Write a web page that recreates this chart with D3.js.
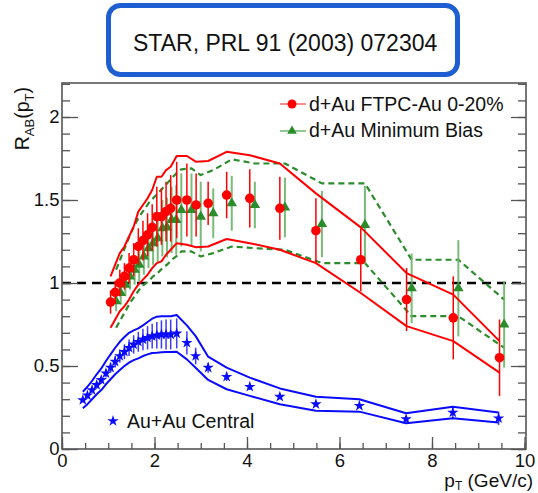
<!DOCTYPE html>
<html><head><meta charset="utf-8">
<script src="https://cdn.jsdelivr.net/npm/d3@7"></script>
<style>
html,body{margin:0;padding:0;background:#fff;}
svg{display:block;font-family:"Liberation Sans",Arial,Helvetica,sans-serif;}
</style></head>
<body>
<svg id="c" width="538" height="493"></svg>
<script>
// ---- data ----
const xMajorTicks = [0, 2, 4, 6, 8, 10];
const yMajorTicks = [0, 0.5, 1, 1.5, 2];

// d+Au FTPC-Au 0-20% (red circles)
const redX   = [1.05,1.15,1.25,1.35,1.45,1.55,1.65,1.75,1.85,1.95,2.05,2.15,2.25,2.35,2.48,2.70,2.90,3.16,3.56,4.06,4.71,5.49,6.46,7.45,8.46,9.46];
const redY   = [0.885,0.944,1.0,1.04,1.09,1.14,1.22,1.255,1.29,1.335,1.40,1.40,1.43,1.45,1.50,1.50,1.47,1.48,1.53,1.51,1.45,1.315,1.14,0.90,0.79,0.55];
const redErr = [0.07,0.07,0.08,0.08,0.09,0.10,0.11,0.12,0.13,0.14,0.18,0.17,0.18,0.20,0.23,0.22,0.19,0.13,0.14,0.175,0.19,0.195,0.19,0.19,0.25,0.23];
const redSysHi = [1.04,1.11,1.18,1.22,1.28,1.34,1.43,1.47,1.51,1.56,1.64,1.64,1.68,1.70,1.765,1.765,1.73,1.735,1.79,1.77,1.72,1.54,1.335,1.06,0.93,0.65];
const redSysLo = [0.73,0.78,0.83,0.86,0.90,0.95,0.99,1.02,1.05,1.09,1.12,1.13,1.17,1.20,1.24,1.23,1.215,1.22,1.265,1.24,1.20,1.12,0.94,0.74,0.65,0.46];

// d+Au Minimum Bias (green triangles)
const greenX   = [1.17,1.27,1.37,1.47,1.57,1.67,1.77,1.87,1.97,2.07,2.17,2.27,2.37,2.47,2.58,2.80,3.00,3.27,3.67,4.17,4.82,5.62,6.55,7.56,8.57,9.56];
const greenY   = [0.89,0.94,0.99,1.04,1.08,1.11,1.16,1.21,1.24,1.27,1.33,1.335,1.38,1.38,1.44,1.44,1.40,1.42,1.48,1.47,1.455,1.355,1.35,0.968,0.968,0.75];
const greenErr = [0.06,0.07,0.07,0.08,0.09,0.10,0.11,0.12,0.13,0.15,0.17,0.18,0.20,0.21,0.22,0.22,0.21,0.15,0.165,0.14,0.18,0.20,0.235,0.21,0.29,0.26];
const greenSysHi = [1.08,1.15,1.22,1.29,1.35,1.40,1.44,1.48,1.51,1.54,1.57,1.60,1.63,1.66,1.685,1.69,1.65,1.68,1.745,1.72,1.72,1.60,1.60,1.14,1.14,0.90];
const greenSysLo = [0.73,0.78,0.83,0.88,0.92,0.96,0.99,1.01,1.04,1.06,1.09,1.11,1.14,1.16,1.19,1.19,1.16,1.18,1.22,1.21,1.20,1.12,1.12,0.80,0.80,0.61];

// Au+Au Central (blue stars)
const blueX   = [0.45,0.55,0.65,0.75,0.85,0.95,1.05,1.15,1.25,1.35,1.45,1.55,1.65,1.75,1.85,1.95,2.05,2.15,2.25,2.35,2.48,2.70,2.89,3.16,3.56,4.06,4.71,5.49,6.43,7.44,8.45,9.44];
const blueY   = [0.295,0.323,0.355,0.386,0.416,0.456,0.49,0.526,0.56,0.586,0.61,0.63,0.646,0.66,0.67,0.68,0.685,0.69,0.69,0.69,0.696,0.64,0.56,0.49,0.435,0.375,0.315,0.27,0.26,0.18,0.22,0.185];
const blueErr = [0.01,0.012,0.015,0.018,0.02,0.025,0.03,0.035,0.04,0.045,0.05,0.055,0.06,0.065,0.07,0.075,0.08,0.085,0.09,0.09,0.09,0.07,0.05,0.03,0.025,0.02,0.015,0.012,0.012,0.01,0.035,0.04];
const blueSysHi = [0.345,0.375,0.41,0.45,0.485,0.53,0.57,0.61,0.646,0.675,0.70,0.715,0.727,0.745,0.765,0.785,0.797,0.80,0.80,0.80,0.807,0.745,0.68,0.556,0.49,0.43,0.365,0.315,0.30,0.215,0.255,0.22];
const blueSysLo = [0.245,0.27,0.30,0.33,0.355,0.39,0.42,0.45,0.476,0.50,0.52,0.535,0.546,0.56,0.57,0.578,0.58,0.583,0.585,0.585,0.586,0.54,0.49,0.416,0.36,0.32,0.27,0.23,0.225,0.155,0.185,0.16];

const legendLabels = ["d+Au FTPC-Au 0-20%", "d+Au Minimum Bias", "Au+Au Central"];
const titleText = "STAR, PRL 91 (2003) 072304";

// ---- drawing ----
const svg = d3.select("#c");
const X0 = 62, X1 = 526, Y0 = 449, Y1 = 83;
const x = d3.scaleLinear().domain([0, 10]).range([62, 524.5]);
const y = d3.scaleLinear().domain([0, 2.2]).range([449, 83.8]);

const RED = "#ff0000", GREEN = "#2a8c2a", GREENBAR = "#6cb46c", BLUE = "#0a0aff";

// title box
svg.append("rect").attr("x", 108.5).attr("y", 5.5).attr("width", 349).attr("height", 69)
  .attr("rx", 12).attr("fill", "#fff").attr("stroke", "#1d5fd1").attr("stroke-width", 5);
svg.append("text").attr("x", 133).attr("y", 51).attr("font-size", 23).attr("fill", "#111").text(titleText);

const g = svg.append("g");

// dashed reference at 1
g.append("line").attr("x1", X0).attr("x2", X1).attr("y1", y(1)).attr("y2", y(1))
  .attr("stroke", "#000").attr("stroke-width", 2.3).attr("stroke-dasharray", "9,6");

const line = d3.line().x(d => x(d[0])).y(d => y(d[1]));
function band(xs, vals, color, width, dash) {
  g.append("path").attr("d", line(xs.map((v, i) => [v, vals[i]])))
    .attr("fill", "none").attr("stroke", color).attr("stroke-width", width)
    .attr("stroke-dasharray", dash || null).attr("stroke-linejoin", "round");
}
function errBars(xs, ys, es, color, width, op) {
  g.append("g").selectAll("line").data(xs).join("line")
    .attr("x1", d => x(d)).attr("x2", d => x(d))
    .attr("y1", (d, i) => y(ys[i] - es[i])).attr("y2", (d, i) => y(ys[i] + es[i]))
    .attr("stroke", color).attr("stroke-width", width).attr("opacity", op || 1);
}

// blue
band(blueX, blueSysHi, BLUE, 2);
band(blueX, blueSysLo, BLUE, 2);
errBars(blueX, blueY, blueErr, BLUE, 1.5, 0.8);
g.append("g").selectAll("path").data(blueX).join("path")
  .attr("transform", (d, i) => `translate(${x(d)},${y(blueY[i])})`)
  .attr("d", d3.symbol(d3.symbolStar, 40)()).attr("fill", BLUE);

// green
band(greenX, greenSysHi, GREEN, 2.2, "6,4");
band(greenX, greenSysLo, GREEN, 2.2, "6,4");
errBars(greenX, greenY, greenErr, GREENBAR, 2, 0.9);
g.append("g").selectAll("path").data(greenX).join("path")
  .attr("transform", (d, i) => `translate(${x(d)},${y(greenY[i])})`)
  .attr("d", d3.symbol(d3.symbolTriangle, 48)()).attr("fill", GREEN);

// red
band(redX, redSysHi, RED, 2);
band(redX, redSysLo, RED, 2);
errBars(redX, redY, redErr, RED, 1.5);
g.append("g").selectAll("circle").data(redX).join("circle")
  .attr("cx", d => x(d)).attr("cy", (d, i) => y(redY[i])).attr("r", 4.8).attr("fill", RED);

// axes
const axG = svg.append("g").attr("color", "#555");
function styleAxis(sel) {
  sel.select(".domain").remove();
  sel.selectAll("line").attr("stroke-width", 1.3);
  sel.selectAll("text").attr("fill", "#111").attr("font-size", 18.5)
     .attr("font-family", "Liberation Sans, Arial, sans-serif");
}
const xMinor = d3.range(0, 10.01, 0.5);
const yMinor = d3.range(0, 2.21, 0.1);
axG.append("g").attr("transform", `translate(0,${Y0})`)
  .call(d3.axisBottom(x).tickValues(xMinor).tickSize(-6).tickFormat("")).call(styleAxis);
axG.append("g").attr("transform", `translate(0,${Y0})`)
  .call(d3.axisBottom(x).tickValues(xMajorTicks).tickSize(-12).tickPadding(5).tickFormat(d3.format("d"))).call(styleAxis);
axG.append("g").attr("transform", `translate(${X0},0)`)
  .call(d3.axisLeft(y).tickValues(yMinor).tickSize(-8).tickFormat("")).call(styleAxis);
axG.append("g").attr("transform", `translate(${X0},0)`)
  .call(d3.axisLeft(y).tickValues(yMajorTicks).tickSize(-16).tickPadding(2.5).tickFormat(d => d3.format("")(d))).call(styleAxis);
axG.append("g").attr("transform", `translate(${X1},0)`)
  .call(d3.axisRight(y).tickValues(yMinor).tickSize(-8).tickFormat("")).call(styleAxis);
axG.append("g").attr("transform", `translate(${X1},0)`)
  .call(d3.axisRight(y).tickValues(yMajorTicks).tickSize(-15).tickFormat("")).call(styleAxis);

// frame
svg.append("rect").attr("x", X0).attr("y", Y1).attr("width", X1 - X0).attr("height", Y0 - Y1)
  .attr("fill", "none").attr("stroke", "#555").attr("stroke-width", 1.6);

// axis titles
const yt = svg.append("text").attr("transform", "translate(29,87) rotate(-90)")
  .attr("text-anchor", "end").attr("font-size", 19.5).attr("fill", "#111");
yt.append("tspan").text("R");
yt.append("tspan").attr("font-size", 13).attr("dy", 5).text("AB");
yt.append("tspan").attr("dy", -5).text("(p");
yt.append("tspan").attr("font-size", 13).attr("dy", 5).text("T");
yt.append("tspan").attr("dy", -5).text(")");

const xt = svg.append("text").attr("x", 533).attr("y", 487).attr("text-anchor", "end")
  .attr("font-size", 19).attr("fill", "#111");
xt.append("tspan").text("p");
xt.append("tspan").attr("font-size", 12).attr("dy", 3).text("T");
xt.append("tspan").attr("dy", -3).text(" (GeV/c)");

// legend
const lg = svg.append("g");
lg.append("line").attr("x1", 280).attr("x2", 306).attr("y1", 104).attr("y2", 104).attr("stroke", "#ff6a6a").attr("stroke-width", 1.5);
lg.append("circle").attr("cx", 292).attr("cy", 104).attr("r", 4.5).attr("fill", RED);
lg.append("text").attr("x", 309).attr("y", 111).attr("font-size", 19.5).attr("fill", "#111").text(legendLabels[0]);
lg.append("line").attr("x1", 280).attr("x2", 306).attr("y1", 131).attr("y2", 131).attr("stroke", "#6cb46c").attr("stroke-width", 1.5);
lg.append("path").attr("transform", "translate(292,131)").attr("d", d3.symbol(d3.symbolTriangle, 40)()).attr("fill", GREEN);
lg.append("text").attr("x", 309).attr("y", 137).attr("font-size", 19.5).attr("fill", "#111").text(legendLabels[1]);
lg.append("path").attr("transform", "translate(113,421)").attr("d", d3.symbol(d3.symbolStar, 40)()).attr("fill", BLUE);
lg.append("text").attr("x", 127).attr("y", 428).attr("font-size", 19.5).attr("fill", "#111").text(legendLabels[2]);
</script>
</body></html>
